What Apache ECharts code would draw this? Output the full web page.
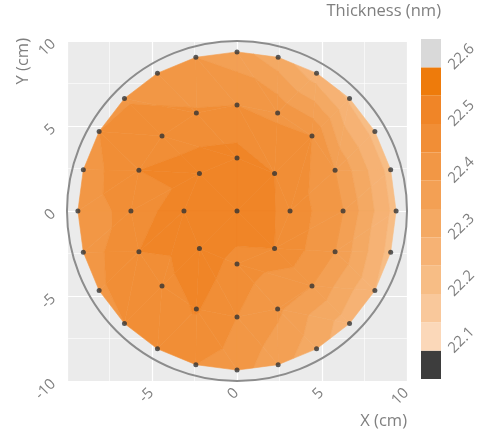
<!DOCTYPE html>
<html>
<head>
<meta charset="utf-8">
<script src="https://cdn.jsdelivr.net/npm/echarts@6/dist/echarts.min.js"></script>
<style>
html, body { margin: 0; padding: 0; background: #fff; }
#main { width: 483px; height: 439px; }
</style>
</head>
<body>
<div id="main"></div>
<script>
// measurement sites (cm): centre, then 3 rings, counter-clockwise from +x
var siteX = [0,
    3.12, 2.21, 0, -2.21, -3.12, -2.21, 0, 2.21,
    6.24, 5.77, 4.41, 2.39, 0, -2.39, -4.41, -5.77, -6.24, -5.77, -4.41, -2.39, 0, 2.39, 4.41, 5.77,
    9.36, 9.04, 8.11, 6.62, 4.68, 2.42, 0, -2.42, -4.68, -6.62, -8.11, -9.04,
    -9.36, -9.04, -8.11, -6.62, -4.68, -2.42, 0, 2.42, 4.68, 6.62, 8.11, 9.04];
var siteY = [0,
    0, 2.21, 3.12, 2.21, 0, -2.21, -3.12, -2.21,
    0, 2.39, 4.41, 5.77, 6.24, 5.77, 4.41, 2.39, 0, -2.39, -4.41, -5.77, -6.24, -5.77, -4.41, -2.39,
    0, 2.42, 4.68, 6.62, 8.11, 9.04, 9.36, 9.04, 8.11, 6.62, 4.68, 2.42,
    0, -2.42, -4.68, -6.62, -8.11, -9.04, -9.36, -9.04, -8.11, -6.62, -4.68, -2.42];
// film thickness (nm) at each site
var thickness = [22.54,
    22.485, 22.50, 22.52, 22.52, 22.53, 22.54, 22.48, 22.50,
    22.40, 22.40, 22.45, 22.44, 22.45, 22.455, 22.48, 22.50, 22.47, 22.50, 22.48, 22.505, 22.45, 22.41, 22.40, 22.40,
    22.23, 22.23, 22.23, 22.24, 22.27, 22.32, 22.37, 22.40, 22.42, 22.445, 22.45, 22.42,
    22.415, 22.42, 22.44, 22.45, 22.46, 22.45, 22.42, 22.37, 22.32, 22.27, 22.25, 22.23];

// colour scale: band edges and fill of each band (bottom to top)
var levels = [22.05, 22.1, 22.15, 22.2, 22.25, 22.3, 22.35, 22.4, 22.45, 22.5, 22.55, 22.6, 22.65];
var bandColors = ['#3d3d3d', '#fbd8b9', '#f9c89b', '#f7bd85', '#f6b274', '#f4a963',
    '#f3a054', '#f29745', '#f18e36', '#f08527', '#ee7b0b', '#d9d9d9'];

var waferRadius = 10;

var myChart = echarts.init(document.getElementById('main'));

// ---- triangulate the sites ring by ring ----
var rings = {};
siteX.forEach(function (x, i) {
    var y = siteY[i];
    var a = Math.atan2(y, x);
    if (a < 0) a += 2 * Math.PI;
    var key = Math.round(Math.sqrt(x * x + y * y));
    (rings[key] = rings[key] || []).push({i: i, a: a});
});
var ringList = Object.keys(rings).map(Number).sort(function (a, b) { return a - b; })
    .map(function (k) {
        return rings[k].sort(function (p, q) { return p.a - q.a; });
    });

var triangles = [];
function stitch(inner, outer) {
    var ni = inner.length, no = outer.length, i = 0, j = 0;
    function nextA(ring, k) {
        return k + 1 < ring.length ? ring[k + 1].a : ring[0].a + 2 * Math.PI;
    }
    while (i < ni || j < no) {
        var ai = i < ni ? nextA(inner, i) : Infinity;
        var ao = j < no ? nextA(outer, j) : Infinity;
        if (ni === 1) ai = Infinity;
        if (ao <= ai) {
            triangles.push([inner[i % ni].i, outer[j % no].i, outer[(j + 1) % no].i]);
            j++;
        } else {
            triangles.push([inner[i % ni].i, inner[(i + 1) % ni].i, outer[j % no].i]);
            i++;
        }
        if (ni === 1 && j >= no) break;
    }
}
for (var r = 0; r < ringList.length - 1; r++) stitch(ringList[r], ringList[r + 1]);

// ---- filled contour bands inside every triangle ----
function clip(poly, level, above) {
    var out = [];
    for (var k = 0; k < poly.length; k++) {
        var p = poly[k], q = poly[(k + 1) % poly.length];
        var pin = above ? p[2] >= level : p[2] <= level;
        var qin = above ? q[2] >= level : q[2] <= level;
        if (pin) out.push(p);
        if (pin !== qin) {
            var t = (level - p[2]) / (q[2] - p[2]);
            out.push([p[0] + t * (q[0] - p[0]), p[1] + t * (q[1] - p[1]), level]);
        }
    }
    return out;
}
var pieces = [];
triangles.forEach(function (tri) {
    var poly = tri.map(function (i) { return [siteX[i], siteY[i], thickness[i]]; });
    for (var b = 0; b < bandColors.length; b++) {
        var part = clip(clip(poly, levels[b], true), levels[b + 1], false);
        if (part.length >= 3) pieces.push({poly: part, band: b});
    }
});

var labelColor = '#7f7f7f';
var fontFamily = 'Open Sans';

var option = {
    animation: false,
    grid: [
        {left: 67, top: 41, width: 340, height: 340, show: true, backgroundColor: '#ebebeb', borderWidth: 0},
        {left: 421, top: 39, width: 20, height: 340}
    ],
    xAxis: [{
        type: 'value', min: -10, max: 10, interval: 5,
        axisLine: {show: false}, axisTick: {show: false},
        splitLine: {lineStyle: {color: '#fff', width: 1.2}},
        minorTick: {show: false, splitNumber: 2},
        minorSplitLine: {show: true, lineStyle: {color: '#fff', width: 0.6}},
        axisLabel: {
            rotate: 45, margin: 9, showMinLabel: false, padding: [16, 1, 0, 0],
            color: labelColor, fontSize: 15, fontFamily: fontFamily
        }
    }, {
        gridIndex: 1, type: 'value', min: 0, max: 1, show: false
    }],
    yAxis: [{
        type: 'value', min: -10, max: 10, interval: 5,
        axisLine: {show: false}, axisTick: {show: false},
        splitLine: {lineStyle: {color: '#fff', width: 1.2}},
        minorTick: {show: false, splitNumber: 2},
        minorSplitLine: {show: true, lineStyle: {color: '#fff', width: 0.6}},
        axisLabel: {
            rotate: 45, margin: 13, padding: [24, 1, 0, 0],
            color: labelColor, fontSize: 15, fontFamily: fontFamily
        }
    }, {
        gridIndex: 1, type: 'value', min: 22.05, max: 22.65, interval: 0.05, position: 'right',
        axisLine: {show: false}, axisTick: {show: false}, splitLine: {show: false},
        axisLabel: {
            rotate: 45, margin: 10, padding: [12, 0, 0, 0],
            color: labelColor, fontSize: 15, fontFamily: fontFamily,
            formatter: function (v) {
                var k = Math.round(v * 100);
                return k % 10 === 0 ? (k / 100).toFixed(1) : '';
            }
        }
    }],
    graphic: [
        {type: 'text', right: 42, top: 3, style: {text: 'Thickness (nm)', fill: labelColor, fontSize: 16.5, fontFamily: fontFamily}},
        {type: 'text', right: 76, top: 413, style: {text: 'X (cm)', fill: labelColor, fontSize: 16.5, fontFamily: fontFamily}},
        {type: 'text', x: 23, y: 38, rotation: Math.PI / 2,
            style: {text: 'Y (cm)', fill: labelColor, fontSize: 16.5, fontFamily: fontFamily, align: 'right', verticalAlign: 'middle'}}
    ],
    series: [{
        type: 'custom',
        z: 1,
        clip: false,
        data: pieces.map(function (p) { return [p.poly[0][0], p.poly[0][1]]; }),
        renderItem: function (params, api) {
            var piece = pieces[params.dataIndex];
            var c = bandColors[piece.band];
            return {
                type: 'polygon',
                shape: {points: piece.poly.map(function (p) { return api.coord([p[0], p[1]]); })},
                style: {fill: c, stroke: c, lineWidth: 0.6}
            };
        }
    }, {
        type: 'custom',
        z: 2,
        clip: false,
        data: [[0, 0, waferRadius]],
        renderItem: function (params, api) {
            var c = api.coord([api.value(0), api.value(1)]);
            var rad = api.size([api.value(2), api.value(2)])[0];
            return {
                type: 'circle',
                shape: {cx: c[0], cy: c[1], r: rad},
                style: {fill: 'none', stroke: '#8c8c8c', lineWidth: 2}
            };
        }
    }, {
        type: 'scatter',
        z: 3,
        symbolSize: 5,
        itemStyle: {color: '#333333'},
        data: siteX.map(function (x, i) { return [x, siteY[i]]; })
    }, {
        type: 'custom',
        xAxisIndex: 1, yAxisIndex: 1,
        data: bandColors.map(function (c, b) { return [0, levels[b], levels[b + 1], b]; }),
        renderItem: function (params, api) {
            var p0 = api.coord([0, api.value(1)]);
            var p1 = api.coord([1, api.value(2)]);
            return {
                type: 'rect',
                shape: {x: p0[0], y: p1[1], width: p1[0] - p0[0], height: p0[1] - p1[1]},
                style: {fill: bandColors[api.value(3)]}
            };
        }
    }]
};

myChart.setOption(option);
</script>
</body>
</html>
